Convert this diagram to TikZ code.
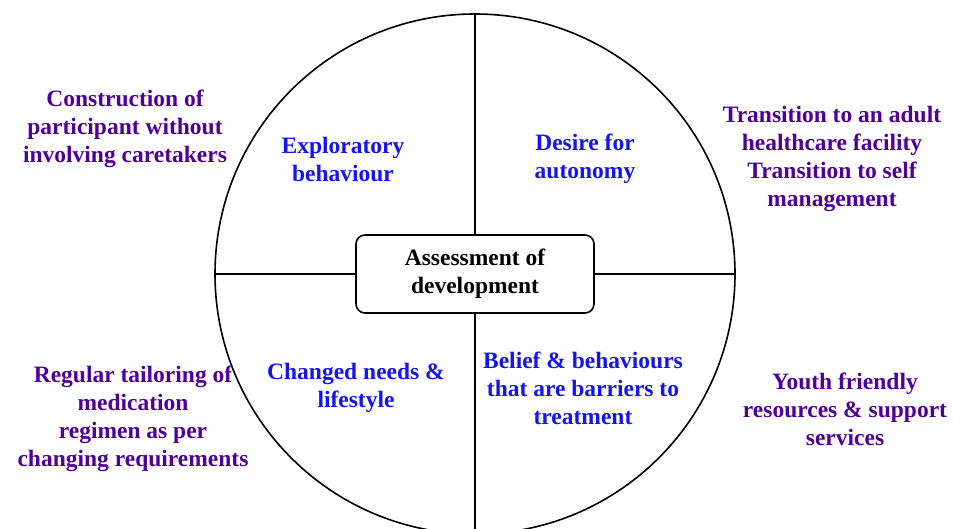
\documentclass[tikz,border=0pt]{standalone}
\usepackage{fontspec}
\setmainfont{Liberation Serif}
\usepackage{xcolor}
\usepackage{tikz}
\usetikzlibrary{positioning}

\definecolor{lila}{RGB}{80,0,150}
\definecolor{blau}{RGB}{20,20,240}

\tikzset{
  innen/.style={align=center, text=blau, font=\fontsize{23.5}{28}\selectfont\bfseries},
  aussen/.style={align=center, text=lila, font=\fontsize{23.5}{28}\selectfont\bfseries},
  mittelbox/.style={draw, line width=1.6pt, rounded corners=9pt, minimum width=238pt, minimum height=78pt, align=center, font=\fontsize{23.5}{28}\selectfont\bfseries}
}

\begin{document}
\begin{tikzpicture}[x=1pt, y=-1pt]

    \useasboundingbox (0,0) rectangle (953,529);

    % Kreis und Mitte
    \node (kreis) at (475,274) [circle, draw, line width=1.6pt, minimum size=520pt, inner sep=0pt] {};
    \node (mitte) at (475,274) [mittelbox] {Assessment of\\development};

    % Trennlinien
    \draw[line width=1.6pt] (kreis.north) -- (mitte.north);
    \draw[line width=1.6pt] (mitte.south) -- (kreis.south);
    \draw[line width=1.6pt] (kreis.west) -- (mitte.west);
    \draw[line width=1.6pt] (mitte.east) -- (kreis.east);

    % Quadranten
    \node (explor) at (343,159) [innen] {Exploratory\\behaviour};
    \node (autonom) at (585,159) [innen] {Desire for\\autonomy};
    \node (beduerf) at (356,388) [innen] {Changed needs \&\\lifestyle};
    \node (barriere) at (583,388) [innen] {Belief \& behaviours\\that are barriers to\\treatment};

    % Aussen
    \node (konstr) at (125,129) [aussen] {Construction of\\participant without\\involving caretakers};
    \node (transit) at (832,159) [aussen] {Transition to an adult\\healthcare facility\\Transition to self\\management};
    \node (regime) at (133,419) [aussen] {Regular tailoring of\\medication\\regimen as per\\changing requirements};
    \node (jugend) at (845,409) [aussen] {Youth friendly\\resources \& support\\services};

\end{tikzpicture}
\end{document}
